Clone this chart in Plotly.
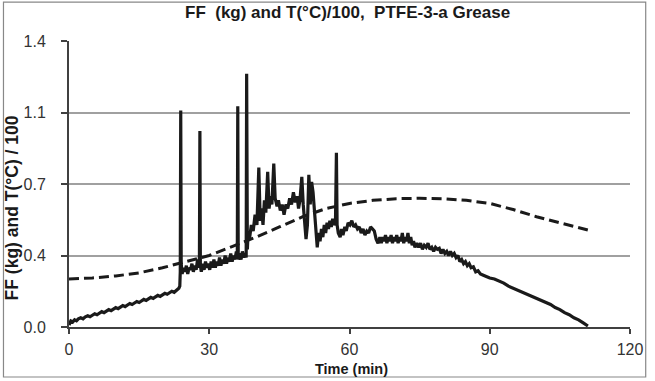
import plotly.graph_objects as go

# FF (kg) solid series
ff_time = [0, 0.4, 0.8, 1.2, 1.6, 2, 2.5, 3, 3.5, 4, 4.5, 5, 5.5, 6, 6.5, 7, 7.5, 8, 8.5, 9, 9.5, 10, 10.5, 11, 11.5,
           12, 12.5, 13, 13.5, 14, 14.5, 15, 15.5, 16, 16.5, 17, 17.5, 18, 18.5, 19, 19.5, 20, 20.5, 21, 21.5, 22,
           22.5, 23, 23.5, 23.7, 23.8, 23.9, 24.0, 24.2, 24.5, 24.8, 25.1, 25.4, 25.7, 26, 26.3, 26.6, 26.9, 27.2,
           27.5, 27.8, 27.9, 28.0, 28.1, 28.3, 28.6, 28.9, 29.2, 29.5, 29.8, 30.1, 30.4, 30.7, 31, 31.3, 31.6, 31.9,
           32.2, 32.5, 32.8, 33.1, 33.4, 33.7, 34, 34.3, 34.6, 34.9, 35.2, 35.5, 35.8, 36.0, 36.1, 36.2, 36.5, 36.8,
           37.1, 37.4, 37.7, 37.9, 38.0, 38.15, 38.3, 38.6, 39, 39.4, 39.8, 40.2, 40.6, 40.9, 41.2, 41.5, 41.8, 42.1,
           42.5, 42.8, 43.1, 43.4, 43.8, 44.1, 44.5, 44.8, 45.2, 45.6, 46, 46.4, 46.8, 47.2, 47.6, 48, 48.4, 48.8,
           49.1, 49.4, 49.8, 50.1, 50.4, 50.7, 51.0, 51.3, 51.6, 51.9, 52.2, 52.5, 52.8, 53.1, 53.4, 53.7, 54, 54.3,
           54.6, 54.9, 55.2, 55.5, 55.8, 56.1, 56.4, 56.7, 57.0, 57.2, 57.35, 57.6, 58, 58.3, 58.6, 59, 59.3, 59.7,
           60.1, 60.5, 60.9, 61.3, 61.7, 62.1, 62.5, 62.9, 63.3, 63.7, 64.1, 64.5, 64.9, 65.3, 65.7, 66.1, 66.5,
           66.8, 67.1, 67.4, 67.7, 68, 68.3, 68.6, 68.9, 69.2, 69.5, 69.8, 70.1, 70.4, 70.7, 71, 71.3, 71.6, 71.9,
           72.2, 72.5, 72.8, 73.1, 73.4, 73.7, 74, 74.4, 74.8, 75.2, 75.6, 76, 76.4, 76.8, 77.2, 77.6, 78, 78.4,
           78.8, 79.2, 79.6, 80, 80.4, 80.8, 81.2, 81.6, 82, 82.4, 82.8, 83.2, 83.6, 84, 84.4, 84.8, 85.2, 85.6, 86,
           86.5, 87, 87.5, 88, 88.5, 89, 89.5, 90, 91, 92, 93, 94, 95, 96, 97, 98, 99, 100, 101, 102, 103, 104, 105,
           106, 107, 108, 109, 110, 111]
ff_value = [0.01, 0.03, 0.025, 0.035, 0.03, 0.04, 0.045, 0.04, 0.05, 0.055, 0.05, 0.06, 0.065, 0.06, 0.07, 0.075,
            0.07, 0.08, 0.085, 0.08, 0.09, 0.095, 0.09, 0.1, 0.105, 0.1, 0.11, 0.115, 0.11, 0.12, 0.125, 0.12, 0.13,
            0.135, 0.13, 0.14, 0.145, 0.14, 0.15, 0.155, 0.15, 0.16, 0.165, 0.16, 0.17, 0.175, 0.17, 0.18, 0.19, 0.2,
            0.27, 1.06, 0.31, 0.26, 0.29, 0.27, 0.3, 0.26, 0.29, 0.28, 0.31, 0.27, 0.3, 0.28, 0.33, 0.29, 0.35, 0.96,
            0.3, 0.27, 0.31, 0.28, 0.32, 0.29, 0.31, 0.28, 0.32, 0.29, 0.33, 0.29, 0.32, 0.3, 0.34, 0.3, 0.33, 0.31,
            0.35, 0.31, 0.34, 0.32, 0.36, 0.32, 0.35, 0.33, 0.37, 0.34, 1.08, 0.33, 0.36, 0.33, 0.37, 0.34, 0.36,
            0.34, 1.24, 0.38, 0.46, 0.43, 0.5, 0.47, 0.55, 0.5, 0.78, 0.52, 0.58, 0.5, 0.62, 0.56, 0.76, 0.58, 0.64,
            0.6, 0.8, 0.63, 0.59, 0.62, 0.57, 0.6, 0.55, 0.6, 0.58, 0.63, 0.6, 0.66, 0.61, 0.64, 0.58, 0.62, 0.735,
            0.6, 0.5, 0.43, 0.5, 0.745, 0.6, 0.71, 0.66, 0.55, 0.46, 0.39, 0.46, 0.42, 0.48, 0.44, 0.5, 0.46, 0.51,
            0.48, 0.52, 0.49, 0.53, 0.5, 0.51, 0.853, 0.5, 0.46, 0.44, 0.48, 0.45, 0.49, 0.47, 0.51, 0.5, 0.52, 0.49,
            0.5, 0.48, 0.49, 0.46, 0.48, 0.45, 0.47, 0.46, 0.49, 0.48, 0.47, 0.43, 0.41, 0.44, 0.41, 0.44, 0.42, 0.45,
            0.41, 0.44, 0.42, 0.45, 0.41, 0.44, 0.42, 0.45, 0.41, 0.44, 0.42, 0.46, 0.41, 0.44, 0.42, 0.46, 0.41,
            0.44, 0.4, 0.42, 0.39, 0.41, 0.39, 0.41, 0.38, 0.4, 0.39, 0.41, 0.38, 0.39, 0.37, 0.39, 0.38, 0.385,
            0.36, 0.38, 0.36, 0.37, 0.35, 0.37, 0.35, 0.36, 0.34, 0.35, 0.32, 0.33, 0.31, 0.32, 0.3, 0.31, 0.29,
            0.295, 0.27, 0.275, 0.26, 0.255, 0.25, 0.245, 0.24, 0.235, 0.225, 0.215, 0.2, 0.19, 0.18, 0.17, 0.16,
            0.15, 0.14, 0.13, 0.12, 0.11, 0.095, 0.085, 0.07, 0.06, 0.045, 0.035, 0.02, 0.005]

# T(°C)/100 dashed series
t_time = [0, 5, 10, 15, 20, 25, 30, 35, 40, 45, 50, 55, 60, 65, 70, 75, 80, 85, 90, 95, 100, 105, 111]
t_value = [0.235, 0.24, 0.25, 0.265, 0.29, 0.32, 0.35, 0.395, 0.44, 0.49, 0.54, 0.58, 0.605, 0.62, 0.628,
           0.63, 0.628, 0.62, 0.605, 0.575, 0.54, 0.51, 0.475]

x_ticks = [0, 30, 60, 90, 120]
y_ticks = [0, 0.35, 0.7, 1.05, 1.4]
y_tick_text = ["0.0", "0.4", "0.7", "1.1", "1.4"]

title_text = "FF  (kg) and T(°C)/100,  PTFE-3-a Grease"
x_title = "Time (min)"
y_title = "FF (kg) and T(°C) / 100"

FONT = "Liberation Sans, Arial, sans-serif"

fig = go.Figure()
fig.add_trace(go.Scatter(x=t_time, y=t_value, mode="lines",
                         line=dict(color="#1a1a1a", width=3, dash="10px,5px"), showlegend=False))
fig.add_trace(go.Scatter(x=ff_time, y=ff_value, mode="lines",
                         line=dict(color="#1a1a1a", width=3.2), showlegend=False))

fig.update_layout(
    width=655, height=381,
    margin=dict(l=69, r=21, t=41, b=54),
    paper_bgcolor="white", plot_bgcolor="white",
    font=dict(family=FONT, size=16, color="#333333"),
    xaxis=dict(range=[0, 120], tickvals=x_ticks, ticks="outside", ticklen=5, tickwidth=1.5,
               tickcolor="#404040", showline=True, linecolor="#404040", linewidth=2,
               showgrid=False, zeroline=False, tickfont=dict(size=16, color="#333333"),
               ticklabelstandoff=2),
    yaxis=dict(range=[0, 1.4], tickvals=y_ticks, ticktext=y_tick_text, ticks="outside", ticklen=6,
               tickwidth=1.5, tickcolor="#404040", showline=True, linecolor="#404040", linewidth=2,
               showgrid=True, gridcolor="#a0a0a0", gridwidth=1.5, zeroline=False,
               tickfont=dict(size=16, color="#333333"), ticklabelstandoff=12),
    annotations=[
        dict(text="<b>" + title_text + "</b>", xref="paper", yref="paper", x=0.4956, y=1.098,
             xanchor="center", yanchor="middle", showarrow=False, font=dict(size=17, color="#1a1a1a")),
        dict(text="<b>" + x_title + "</b>", xref="paper", yref="paper", x=0.5027, y=-0.1469,
             xanchor="center", yanchor="middle", showarrow=False, font=dict(size=14.5, color="#1a1a1a")),
        dict(text="<b>" + y_title + "</b>", xref="paper", yref="paper", x=-0.1009, y=0.416,
             xanchor="center", yanchor="middle", showarrow=False, textangle=-90,
             font=dict(size=17.5, color="#1a1a1a")),
    ],
    shapes=[dict(type="rect", xref="paper", yref="paper", x0=-0.1168, x1=1.028, y0=-0.1748, y1=1.136,
                 line=dict(color="#888888", width=1.2), fillcolor="rgba(0,0,0,0)", layer="below")],
)

fig.write_html("out.html", config={"displayModeBar": False},
               post_script="document.body.style.margin='0';")
